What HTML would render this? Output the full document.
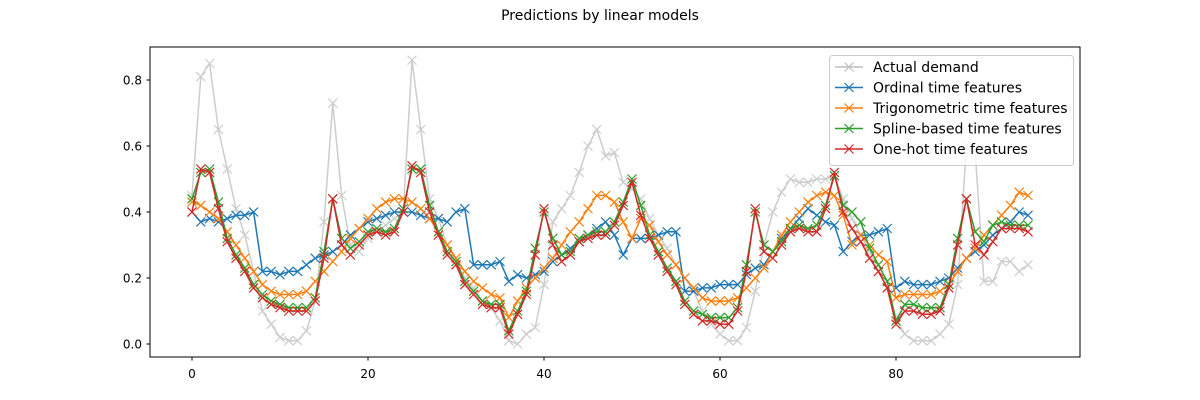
<!DOCTYPE html>
<html><head><meta charset="utf-8"><style>
body{margin:0;background:#fff;}
svg{display:block;font-family:"DejaVu Sans","Liberation Sans",sans-serif;}
</style></head><body>
<svg id="chart" width="1200" height="400">
<text x="600" y="20" text-anchor="middle" font-size="14">Predictions by linear models</text>
<g id="grid"></g>
<g id="series"></g>
<rect x="150" y="47" width="930" height="310" fill="none" stroke="#000" stroke-width="1"/>
<g id="legend"></g>
</svg>
<script>
const xTicks=[0,20,40,60,80];
const yTicks=[0.0,0.2,0.4,0.6,0.8];
const yTickLabels=["0.0","0.2","0.4","0.6","0.8"];
const seriesNames=["Actual demand","Ordinal time features","Trigonometric time features","Spline-based time features","One-hot time features"];
const actual=[0.45,0.81,0.85,0.65,0.53,0.41,0.33,0.22,0.10,0.06,0.02,0.01,0.01,0.04,0.13,0.37,0.73,0.45,0.30,0.28,0.32,0.34,0.36,0.38,0.40,0.86,0.65,0.44,0.38,0.30,0.25,0.20,0.17,0.13,0.11,0.07,0.01,0.00,0.03,0.05,0.18,0.37,0.41,0.45,0.52,0.60,0.65,0.57,0.58,0.49,0.47,0.44,0.38,0.33,0.29,0.24,0.20,0.16,0.10,0.06,0.03,0.01,0.01,0.05,0.16,0.30,0.40,0.46,0.50,0.49,0.49,0.50,0.50,0.51,0.44,0.38,0.33,0.28,0.22,0.17,0.08,0.03,0.01,0.01,0.01,0.03,0.06,0.18,0.60,0.58,0.19,0.19,0.25,0.25,0.22,0.24];
const ordinal=[0.40,0.37,0.38,0.37,0.38,0.39,0.39,0.40,0.22,0.22,0.21,0.22,0.22,0.24,0.26,0.27,0.28,0.30,0.33,0.35,0.37,0.38,0.39,0.40,0.40,0.40,0.39,0.38,0.38,0.37,0.40,0.41,0.24,0.24,0.24,0.25,0.19,0.21,0.20,0.21,0.22,0.25,0.27,0.29,0.31,0.33,0.35,0.37,0.33,0.27,0.32,0.32,0.32,0.33,0.34,0.34,0.16,0.16,0.17,0.17,0.18,0.18,0.18,0.21,0.23,0.24,0.28,0.32,0.35,0.38,0.41,0.39,0.37,0.36,0.28,0.31,0.33,0.33,0.34,0.35,0.17,0.19,0.18,0.18,0.18,0.19,0.20,0.23,0.26,0.28,0.30,0.33,0.35,0.37,0.40,0.39];
const trig=[0.43,0.42,0.40,0.38,0.34,0.30,0.26,0.22,0.18,0.16,0.15,0.15,0.15,0.16,0.19,0.22,0.25,0.28,0.32,0.35,0.38,0.41,0.43,0.44,0.44,0.43,0.41,0.38,0.34,0.30,0.26,0.22,0.19,0.17,0.15,0.14,0.08,0.13,0.17,0.20,0.23,0.26,0.30,0.34,0.37,0.41,0.45,0.45,0.43,0.37,0.32,0.38,0.36,0.31,0.27,0.24,0.20,0.17,0.14,0.13,0.13,0.13,0.14,0.17,0.20,0.23,0.28,0.33,0.37,0.40,0.43,0.45,0.46,0.45,0.39,0.30,0.33,0.30,0.27,0.25,0.14,0.15,0.15,0.15,0.15,0.16,0.18,0.22,0.26,0.29,0.33,0.36,0.39,0.42,0.46,0.45];
const spline=[0.44,0.52,0.53,0.43,0.32,0.27,0.23,0.18,0.15,0.13,0.12,0.11,0.11,0.11,0.14,0.28,0.44,0.32,0.29,0.31,0.34,0.35,0.34,0.35,0.41,0.53,0.53,0.42,0.34,0.28,0.25,0.19,0.16,0.13,0.12,0.12,0.04,0.10,0.16,0.29,0.40,0.32,0.27,0.28,0.32,0.33,0.34,0.34,0.37,0.43,0.50,0.42,0.33,0.28,0.23,0.19,0.13,0.10,0.09,0.08,0.08,0.08,0.11,0.24,0.40,0.30,0.28,0.31,0.35,0.36,0.35,0.36,0.42,0.51,0.42,0.40,0.37,0.29,0.24,0.19,0.07,0.12,0.12,0.11,0.11,0.11,0.18,0.32,0.44,0.34,0.31,0.36,0.37,0.36,0.36,0.36];
const onehot=[0.40,0.53,0.52,0.41,0.31,0.26,0.22,0.17,0.14,0.12,0.11,0.10,0.10,0.10,0.13,0.26,0.44,0.30,0.27,0.30,0.33,0.34,0.33,0.34,0.40,0.54,0.52,0.40,0.33,0.27,0.24,0.18,0.15,0.12,0.11,0.11,0.03,0.09,0.15,0.27,0.41,0.30,0.25,0.27,0.31,0.32,0.33,0.33,0.36,0.42,0.49,0.39,0.32,0.27,0.22,0.18,0.12,0.09,0.07,0.07,0.06,0.06,0.10,0.22,0.41,0.28,0.26,0.30,0.34,0.35,0.34,0.34,0.41,0.52,0.40,0.35,0.31,0.26,0.22,0.17,0.06,0.10,0.10,0.09,0.09,0.10,0.17,0.30,0.44,0.30,0.27,0.31,0.35,0.35,0.35,0.34];
const colors=["#bdbdbd","#1f77b4","#ff7f0e","#2ca02c","#d62728"];
const seriesData=[actual,ordinal,trig,spline,onehot];
const seriesIds=["actual-demand","ordinal","trigonometric","spline","one-hot"];

const NS="http://www.w3.org/2000/svg";
const xs=v=>192+v*8.8;
const ys=v=>344-v*330;
function mk(tag,attrs,parent){const e=document.createElementNS(NS,tag);for(const k in attrs)e.setAttribute(k,attrs[k]);parent.appendChild(e);return e;}
const grid=document.getElementById('grid');
xTicks.forEach(t=>{
  const l=mk('line',{x1:xs(t),x2:xs(t),y1:357,y2:360.5,stroke:'#000'},grid);
  
  
  const tx=mk('text',{x:xs(t),y:378,'text-anchor':'middle','font-size':'12'},grid);
  tx.textContent=t;
  
  
});
yTicks.forEach((t,i)=>{
  const l=mk('line',{x1:146.5,x2:150,y1:ys(t),y2:ys(t),stroke:'#000'},grid);
  
  
  const tx=mk('text',{x:142,y:ys(t)+4.5,'text-anchor':'end','font-size':'12'},grid);
  tx.textContent=yTickLabels[i];
  
  
});
const sg=document.getElementById('series');
function marker(x,y,c,p){
  const r=4.5;
  const d=`M${x-r},${y-r}L${x+r},${y+r}M${x-r},${y+r}L${x+r},${y-r}`;
  return mk('path',{d:d,stroke:c,'stroke-width':1.2,fill:'none'},p);
}
seriesData.forEach((arr,si)=>{
  const g=mk('g',{opacity:si===0?0.75:1},sg);
  
  
  const pts=arr.map((v,i)=>xs(i)+','+ys(v)).join(' ');
  const pl=mk('polyline',{points:pts,fill:'none',stroke:colors[si],'stroke-width':1.5,'stroke-linejoin':'round'},g);
  
  
  arr.forEach((v,i)=>{
    const m=marker(xs(i),ys(v),colors[si],g);
    
    
  });
});
const lg=document.getElementById('legend');
const box=mk('rect',{x:829.5,y:55.5,width:244,height:110,rx:3,fill:'#fff','fill-opacity':0.8,stroke:'#ccc'},lg);


seriesNames.forEach((n,i)=>{
  const y=67+i*20.5;
  const g=mk('g',{},lg);
  
  
  mk('line',{x1:835,x2:863,y1:y,y2:y,stroke:colors[i],'stroke-width':1.5},g);
  marker(849,y,colors[i],g);
  const t=mk('text',{x:873,y:y+4.8,'font-size':'14'},g);
  t.textContent=n;
});
</script>
</body></html>
